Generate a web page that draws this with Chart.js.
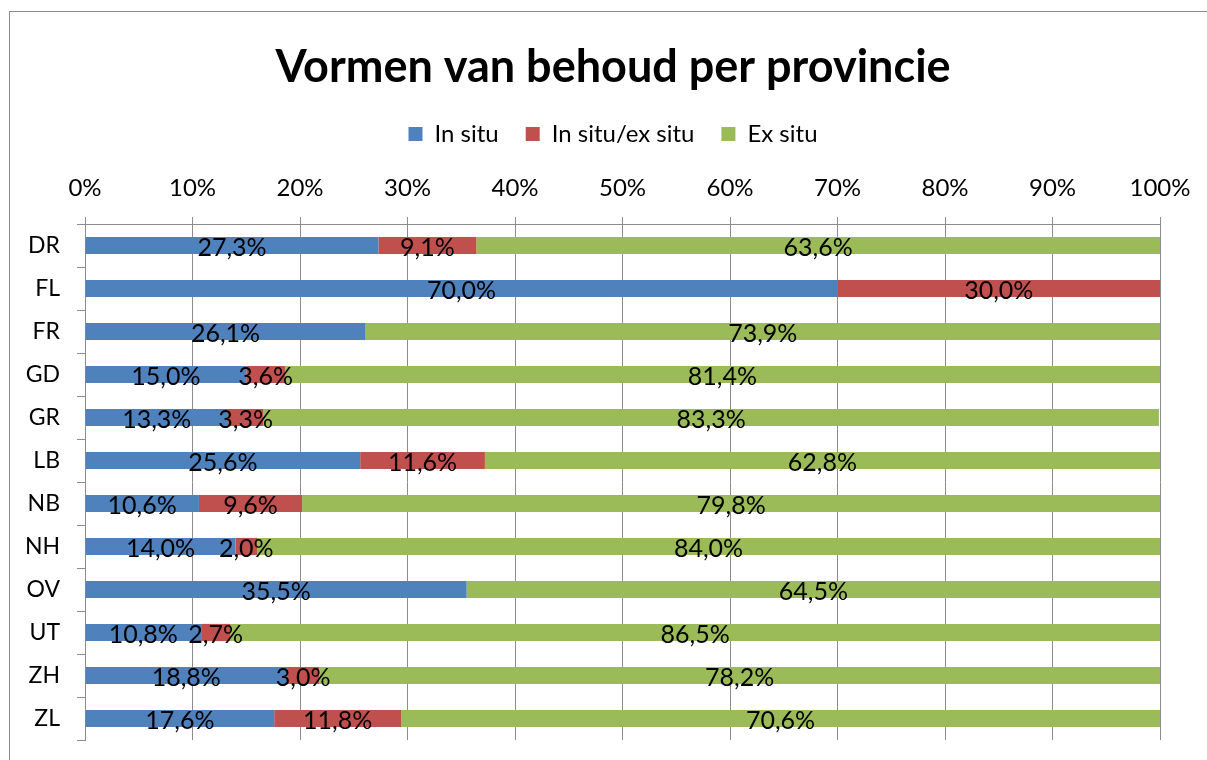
<!DOCTYPE html>
<html>
<head>
<meta charset="utf-8">
<script src="https://cdn.jsdelivr.net/npm/chart.js@4/dist/chart.umd.min.js"></script>
<style>
  html, body { margin: 0; padding: 0; background: #fff; }
  #wrap { width: 1207px; height: 760px; position: relative; overflow: hidden; }
</style>
</head>
<body>
<div id="wrap"><canvas id="myChart" width="1226" height="760"></canvas></div>
<script>
// provinces and shares (percent)
const provinces = ['DR', 'FL', 'FR', 'GD', 'GR', 'LB', 'NB', 'NH', 'OV', 'UT', 'ZH', 'ZL'];
const inSitu    = [27.3, 70.0, 26.1, 15.0, 13.3, 25.6, 10.6, 14.0, 35.5, 10.8, 18.8, 17.6];
const inExSitu  = [9.1, 30.0, 0, 3.6, 3.3, 11.6, 9.6, 2.0, 0, 2.7, 3.0, 11.8];
const exSitu    = [63.6, 0, 73.9, 81.4, 83.3, 62.8, 79.8, 84.0, 64.5, 86.5, 78.2, 70.6];
const tickValues = [0, 10, 20, 30, 40, 50, 60, 70, 80, 90, 100];

const FONT = 'Lato, "Open Sans", sans-serif';
Chart.defaults.font.family = FONT;
Chart.defaults.color = '#000';

// outer frame like the spreadsheet chart area
const framePlugin = {
  id: 'frame',
  beforeDraw(chart) {
    const ctx = chart.ctx;
    ctx.save();
    ctx.fillStyle = '#fff';
    ctx.fillRect(0, 0, chart.width, chart.height);
    ctx.strokeStyle = '#8c8c8c';
    ctx.lineWidth = 1;
    ctx.strokeRect(9.5, 11.5, chart.width + 10, chart.height + 10);
    ctx.restore();
  }
};

// value labels in the middle of each segment
const segmentLabels = {
  id: 'segmentLabels',
  afterDatasetsDraw(chart) {
    const ctx = chart.ctx;
    ctx.save();
    ctx.font = '25px ' + FONT;
    ctx.fillStyle = '#000';
    ctx.textAlign = 'center';
    ctx.textBaseline = 'middle';
    chart.data.datasets.forEach((ds, i) => {
      const meta = chart.getDatasetMeta(i);
      meta.data.forEach((bar, j) => {
        const v = ds.data[j];
        if (!v) return;
        const cx = (bar.x + bar.base) / 2;
        ctx.fillText(v.toFixed(1).replace('.', ',') + '%', cx, bar.y + 2);
      });
    });
    ctx.restore();
  }
};

const config = {
  type: 'bar',
  data: {
    labels: provinces,
    datasets: [
      { label: 'In situ', data: inSitu, backgroundColor: '#4F81BD' },
      { label: 'In situ/ex situ', data: inExSitu, backgroundColor: '#C0504D' },
      { label: 'Ex situ', data: exSitu, backgroundColor: '#9BBB59' }
    ]
  },
  options: {
    indexAxis: 'y',
    responsive: false,
    animation: false,
    barPercentage: 0.4,
    categoryPercentage: 1,
    layout: { padding: { left: 0, right: 0, top: 0, bottom: 20 } },
    plugins: {
      title: {
        display: true,
        text: 'Vormen van behoud per provincie',
        font: { size: 45, weight: 'bold' },
        color: '#000',
        padding: { top: 40, bottom: 1 }
      },
      legend: {
        position: 'top',
        labels: {
          boxWidth: 14,
          boxHeight: 14,
          padding: 27,
          font: { size: 24 },
          color: '#000'
        }
      },
      tooltip: { enabled: false }
    },
    scales: {
      x: {
        position: 'top',
        stacked: true,
        min: 0,
        max: 100,
        afterBuildTicks(scale) {
          scale.ticks = tickValues.map(v => ({ value: v }));
        },
        afterFit(scale) { scale.height = 68; },
        ticks: {
          font: { size: 24 },
          color: '#000',
          padding: 14,
          callback: v => v + '%'
        },
        grid: { color: '#8c8c8c', tickLength: 7, lineWidth: 1 },
        border: { color: '#8c8c8c' }
      },
      y: {
        stacked: true,
        afterFit(scale) {
          scale.width = 85;
          scale.paddingTop = 0;
          scale.paddingBottom = 0;
        },
        ticks: { font: { size: 23 }, color: '#000', padding: 17 },
        grid: { drawOnChartArea: false, color: '#8c8c8c', tickLength: 8, offset: true },
        border: { color: '#8c8c8c' }
      },
      // empty spacer on the right so title and legend centre like the original
      spacer: {
        type: 'linear',
        position: 'right',
        afterFit(scale) {
          scale.width = 66;
          scale.paddingTop = 0;
          scale.paddingBottom = 0;
        },
        ticks: { display: false },
        grid: { display: false },
        border: { display: false }
      }
    }
  },
  plugins: [framePlugin, segmentLabels]
};

let myChart = new Chart(document.getElementById('myChart'), config);
</script>
</body>
</html>
